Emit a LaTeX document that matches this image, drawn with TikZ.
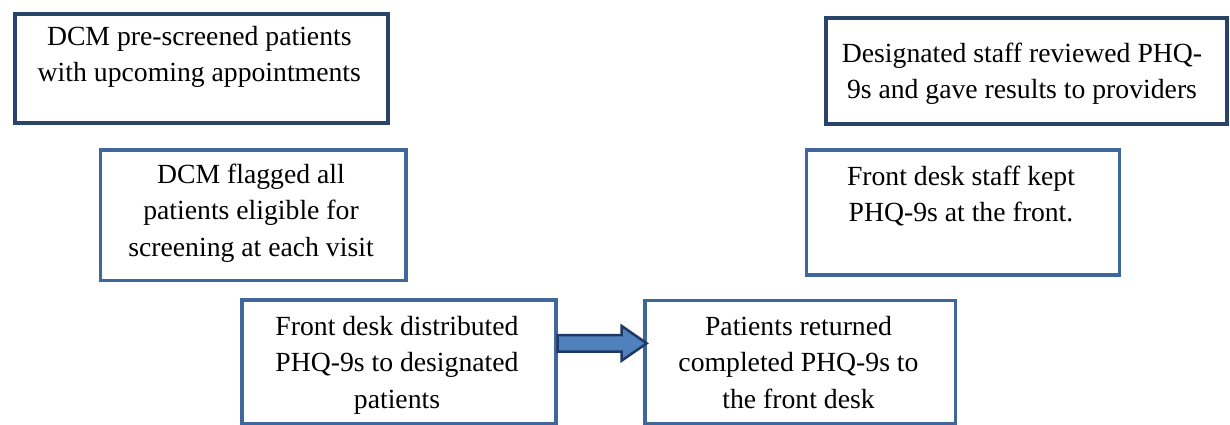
\documentclass[tikz,border=0pt]{standalone}
\usepackage{fontspec}
\setmainfont{Liberation Serif}
\usetikzlibrary{calc}
\definecolor{darkblue}{HTML}{29436B}
\definecolor{midblue}{HTML}{40679B}
\definecolor{arrowfill}{HTML}{4F81BD}
\definecolor{arrowline}{HTML}{1F3864}
\tikzset{
  darkbox/.style={draw=darkblue, line width=4pt, rectangle, inner sep=0pt},
  midbox/.style={draw=midblue, line width=3.5pt, rectangle, inner sep=0pt},
  txt/.style={anchor=base, inner sep=0pt, font=\fontsize{27.7}{36.5}\selectfont},
  fatarrow/.style={draw=arrowline, fill=arrowfill, line width=2.5pt, line join=miter}
}
\newcommand{\lines}[1]{\begin{tabular}[t]{@{}c@{}}#1\end{tabular}}
\begin{document}
\begin{tikzpicture}[x=1pt,y=-1pt]
\useasboundingbox (0,0) rectangle (1230,424);
% boxes
\node[darkbox, fit/.style={}, minimum width=372.5pt, minimum height=109pt, anchor=north west] (b1) at (13,11.5) {};
\node[midbox, minimum width=305.5pt, minimum height=130.7pt, anchor=north west] (b2) at (98.5,148) {};
\node[midbox, minimum width=314pt, minimum height=123.2pt, anchor=north west] (b3) at (240,298.3) {};
\node[midbox, minimum width=310.5pt, minimum height=122.7pt, anchor=north west] (b4) at (643.3,298.8) {};
\node[darkbox, minimum width=401pt, minimum height=105.9pt, anchor=north west] (b5) at (824,15.8) {};
\node[midbox, minimum width=312.8pt, minimum height=125pt, anchor=north west] (b6) at (804.7,148.3) {};
% texts
\node[txt] (t1) at (199.3,45) {\lines{DCM pre-screened patients\\with upcoming appointments}};
\node[txt] (t2) at (251,183) {\lines{DCM flagged all\\patients eligible for\\screening at each visit}};
\node[txt] (t3) at (397,335) {\lines{Front desk distributed\\PHQ-9s to designated\\patients}};
\node[txt] (t4) at (798.5,335) {\lines{Patients returned\\completed PHQ-9s to\\the front desk}};
\node[txt] (t5) at (1022,62) {\lines{Designated staff reviewed PHQ-\\9s and gave results to providers}};
\node[txt] (t6) at (961,185) {\lines{Front desk staff kept\\PHQ-9s at the front.}};
% arrow
\coordinate (as) at (b3.east |- 0,343.3);
\coordinate (ae) at (b4.west |- 0,343.3);
\draw[fatarrow] ($(as)+(0,-8.3)$) -- ($(ae)+(-21.6,-8.3)$) -- ($(ae)+(-21.6,-17.3)$)
  -- ($(ae)+(3.4,0)$) -- ($(ae)+(-21.6,17.3)$) -- ($(ae)+(-21.6,8.3)$)
  -- ($(as)+(0,8.3)$) -- cycle;
\end{tikzpicture}
\end{document}
